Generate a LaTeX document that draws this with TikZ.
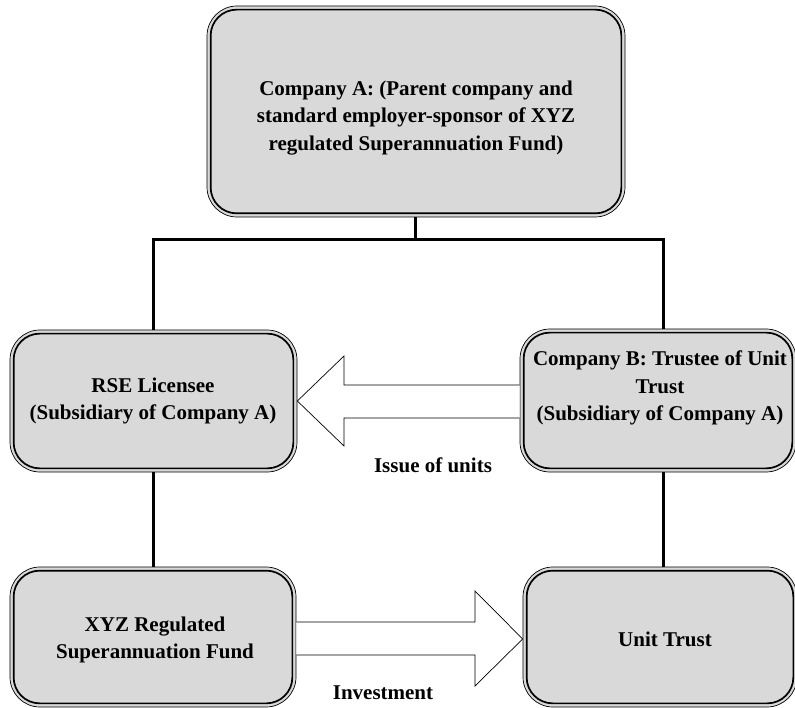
\documentclass[tikz,border=0pt]{standalone}
\usepackage{fontspec}
\setmainfont{Liberation Serif}
\definecolor{boxgray}{RGB}{217,217,217}
\begin{document}
\begin{tikzpicture}[x=1pt,y=-1pt,
  box/.style={draw=black, line width=0.7pt, fill=boxgray, rounded corners=30pt, inner sep=0pt},
  innerline/.style={draw=black, line width=1.7pt, rounded corners=26pt},
  link/.style={draw=black, line width=3pt},
  blockarrow/.style={draw=black, line width=0.7pt, fill=white},
  txt/.style={font=\bfseries\fontsize{21}{27.5}\selectfont, align=center, inner sep=0pt}]
\useasboundingbox (0,0) rectangle (795,708);
% boxes
\node[box, minimum width=418pt, minimum height=211pt] (A) at (416,111.5) {};
\node[box, minimum width=287pt, minimum height=142pt] (R) at (153.5,401) {};
\node[box, minimum width=276pt, minimum height=143pt] (B) at (658,400.5) {};
\node[box, minimum width=286pt, minimum height=140pt] (X) at (153,637) {};
\node[box, minimum width=274pt, minimum height=140pt] (U) at (660,637) {};
\foreach \n in {A,R,B,X,U}
  \draw[innerline] ([shift={(4,4)}]\n.north west) rectangle ([shift={(-4,-4)}]\n.south east);
% connectors
\coordinate (J) at (415,240);
\coordinate (JL) at (153,240);
\coordinate (JR) at (663,240);
\draw[link] (A.south -| J) -- (J);
\draw[link,line cap=rect] (JL) -- (JR);
\draw[link] (JL) -- (JL |- R.north);
\draw[link] (JR) -- (JR |- B.north);
\draw[link] (R.south -| JL) -- (X.north -| JL);
\draw[link] (B.south -| JR) -- (U.north -| JR);
% block arrows
\filldraw[blockarrow] (B.west |- 0,385) -- (344,385) -- (344,356) -- (R.east) -- (344,446) -- (344,418) -- (B.west |- 0,418);
\filldraw[blockarrow] (X.east |- 0,622) -- (475,622) -- (475,591) -- (U.west |- 0,639) -- (475,686) -- (475,655) -- (X.east |- 0,655);
% texts
\node[txt] (tA) at (416,118) {Company A: (Parent company and\\standard employer-sponsor of XYZ\\regulated Superannuation Fund)};
\node[txt] (tR) at (153,401) {RSE Licensee\\(Subsidiary of Company A)};
\node[txt] (tB) at (660,388) {Company B: Trustee of Unit\\Trust\\(Subsidiary of Company A)};
\node[txt] (tX) at (155,640) {XYZ Regulated\\Superannuation Fund};
\node[txt] (tU) at (665,639) {Unit Trust};
\node[txt] (issue) at (433,465) {Issue of units};
\node[txt] (invest) at (383,693) {Investment};
\end{tikzpicture}
\end{document}
